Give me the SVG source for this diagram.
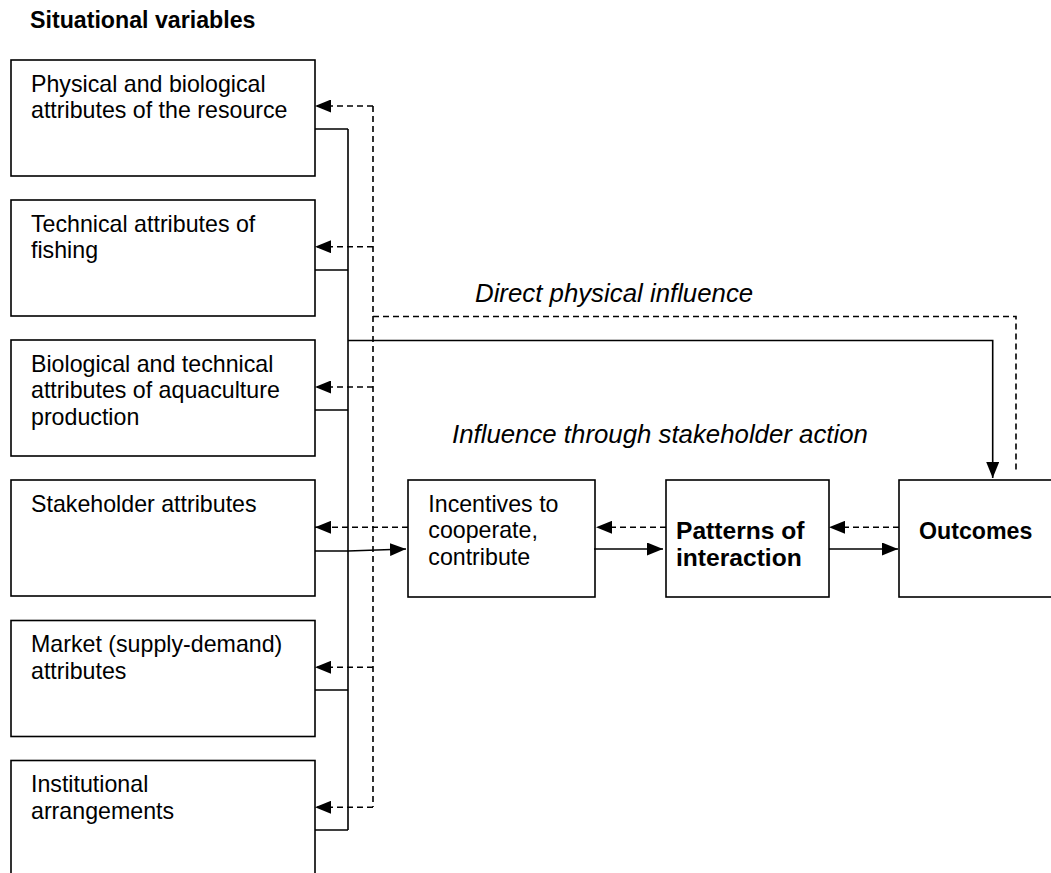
<svg xmlns="http://www.w3.org/2000/svg" width="1051" height="873" viewBox="0 0 1051 873">
<style>
.box{fill:#fff;stroke:#000;stroke-width:1.6}
.t{font-family:"Liberation Sans",Arial,sans-serif;font-size:23.2px;fill:#000}
.b{font-weight:bold}
.i{font-style:italic;font-size:25.8px}
.s{fill:none;stroke:#000;stroke-width:1.6}
.d{fill:none;stroke:#000;stroke-width:1.6;stroke-dasharray:6,4}
</style>
<defs>
<marker id="ah" markerUnits="userSpaceOnUse" markerWidth="16" markerHeight="13" refX="16" refY="6.5" orient="auto">
<path d="M0,0 L16,6.5 L0,13 Z" fill="#000" stroke="none"/>
</marker>
</defs>
<rect width="1051" height="873" fill="#fff"/>
<text class="t b" x="30" y="28">Situational variables</text>

<g id="n1"><rect class="box" x="11" y="60" width="304" height="116"/>
<text class="t" x="31" y="91.7">Physical and biological</text><text class="t" x="31" y="118.3">attributes of the resource</text></g>
<g id="n2"><rect class="box" x="11" y="200" width="304" height="116"/>
<text class="t" x="31" y="231.7">Technical attributes of</text><text class="t" x="31" y="258.3">fishing</text></g>
<g id="n3"><rect class="box" x="11" y="340" width="304" height="116"/>
<text class="t" x="31" y="371.7">Biological and technical</text><text class="t" x="31" y="398.3">attributes of aquaculture</text><text class="t" x="31" y="425">production</text></g>
<g id="n4"><rect class="box" x="11" y="480" width="304" height="116"/>
<text class="t" x="31" y="511.7">Stakeholder attributes</text></g>
<g id="n5"><rect class="box" x="11" y="620.5" width="304" height="116"/>
<text class="t" x="31" y="652">Market (supply-demand)</text><text class="t" x="31" y="678.7">attributes</text></g>
<g id="n6"><rect class="box" x="11" y="760.5" width="304" height="130"/>
<text class="t" x="31" y="792">Institutional</text><text class="t" x="31" y="818.7">arrangements</text></g>
<g id="n7"><rect class="box" x="408" y="480" width="187" height="117"/>
<text class="t" x="428.3" y="511.7">Incentives to</text><text class="t" x="428.3" y="538.3">cooperate,</text><text class="t" x="428.3" y="565">contribute</text></g>
<g id="n8"><rect class="box" x="666" y="480" width="163" height="117"/>
<text class="t b" x="676" y="539.3" style="font-size:24.6px">Patterns of</text><text class="t b" x="676" y="566" style="font-size:24.6px">interaction</text></g>
<g id="n9"><rect class="box" x="899" y="480" width="160" height="117"/>
<text class="t b" x="919" y="539">Outcomes</text></g>

<g id="labels">
<text class="t i" x="475" y="302">Direct physical influence</text>
<text class="t i" x="452" y="442.7">Influence through stakeholder action</text>
</g>

<g id="connectors">
<path class="s" d="M315,129 H348 M315,270 H348 M315,410 H348 M315,690 H348 M315,830 H348 M348,129 V830"/>
<path class="s" d="M315,551 H348"/>
<path class="s" d="M348,551 L406,549" marker-end="url(#ah)"/>
<path class="s" d="M348,340.5 H992.7 V478" marker-end="url(#ah)"/>
<path class="s" d="M594,549 H663" marker-end="url(#ah)"/>
<path class="s" d="M829,549 H898" marker-end="url(#ah)"/>
<path class="d" d="M373,106 V807"/>
<path class="d" d="M373,106 H315" marker-end="url(#ah)"/>
<path class="d" d="M373,246.7 H315" marker-end="url(#ah)"/>
<path class="d" d="M373,387 H315" marker-end="url(#ah)"/>
<path class="d" d="M408,527.3 H315" marker-end="url(#ah)"/>
<path class="d" d="M373,667.3 H315" marker-end="url(#ah)"/>
<path class="d" d="M373,807.3 H315" marker-end="url(#ah)"/>
<path class="d" d="M373,316.5 H1016 V473"/>
<path class="d" d="M666,527.3 H596" marker-end="url(#ah)"/>
<path class="d" d="M899,527.3 H829" marker-end="url(#ah)"/>
</g>
</svg>
